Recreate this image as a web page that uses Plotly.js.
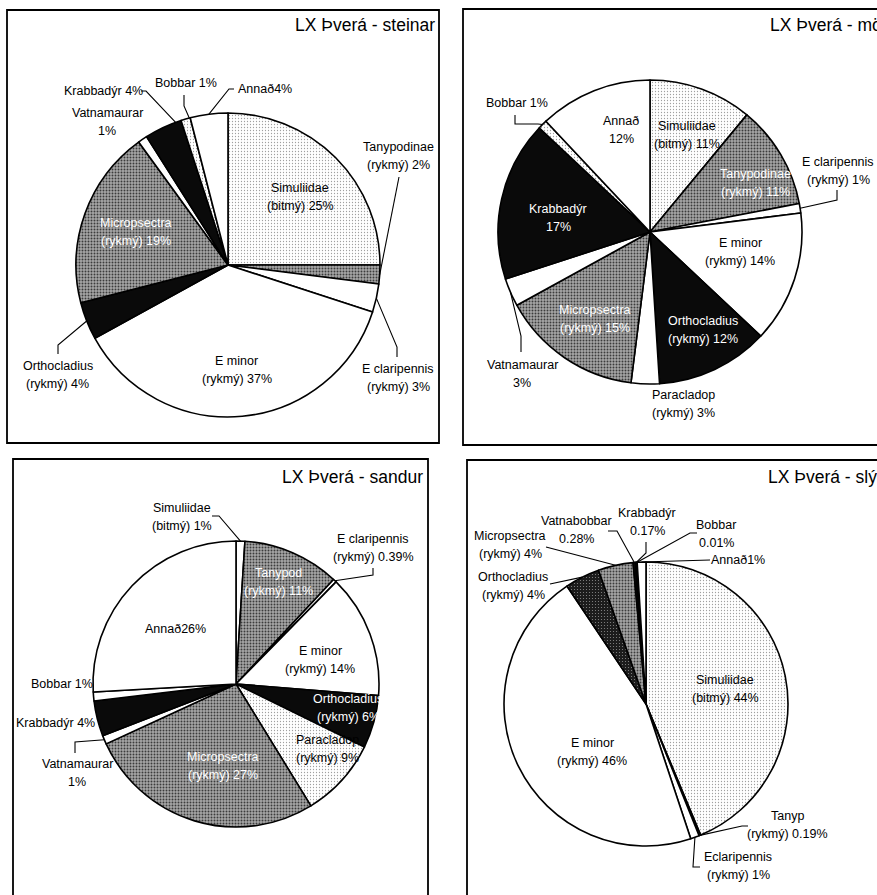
<!DOCTYPE html>
<html>
<head>
<meta charset="utf-8">
<script src="https://cdn.plot.ly/plotly-3.0.1.min.js"></script>
<style>
  html, body { margin: 0; padding: 0; background: #fff; }
  #chart { width: 877px; height: 895px; }
</style>
</head>
<body>
<div id="chart"></div>
<script>
// ---- data: one set of arrays per sampling substrate, slices listed clockwise from 12 o'clock ----
const titles = ['LX Þverá - steinar', 'LX Þverá - möl', 'LX Þverá - sandur', 'LX Þverá - slý'];

const steinarGroups = ['Simuliidae', 'Tanypodinae', 'E claripennis', 'E minor', 'Orthocladius', 'Micropsectra', 'Vatnamaurar', 'Krabbadýr', 'Bobbar', 'Annað'];
const steinarLabels = ['Simuliidae\n(bitmý) ', 'Tanypodinae\n(rykmý) ', 'E claripennis\n(rykmý) ', 'E minor\n(rykmý) ', 'Orthocladius\n(rykmý) ', 'Micropsectra\n(rykmý) ', 'Vatnamaurar\n', 'Krabbadýr ', 'Bobbar ', 'Annað'];
const steinarValues = [25, 2, 3, 37, 4, 19, 1, 4, 1, 4];

const molGroups = ['Simuliidae', 'Tanypodinae', 'E claripennis', 'E minor', 'Orthocladius', 'Paracladop', 'Micropsectra', 'Vatnamaurar', 'Krabbadýr', 'Bobbar', 'Annað'];
const molLabels = ['Simuliidae\n(bitmý) ', 'Tanypodinae\n(rykmý) ', 'E claripennis\n(rykmý) ', 'E minor\n(rykmý) ', 'Orthocladius\n(rykmý) ', 'Paracladop\n(rykmý) ', 'Micropsectra\n(rykmý) ', 'Vatnamaurar\n', 'Krabbadýr\n', 'Bobbar ', 'Annað\n'];
const molValues = [11, 11, 1, 14, 12, 3, 15, 3, 17, 1, 12];

const sandurGroups = ['Simuliidae', 'Tanypod', 'E claripennis', 'E minor', 'Orthocladius', 'Paracladop', 'Micropsectra', 'Vatnamaurar', 'Krabbadýr', 'Bobbar', 'Annað'];
const sandurLabels = ['Simuliidae\n(bitmý) ', 'Tanypod\n(rykmý) ', 'E claripennis\n(rykmý) ', 'E minor\n(rykmý) ', 'Orthocladius\n(rykmý) ', 'Paracladop\n(rykmý) ', 'Micropsectra\n(rykmý) ', 'Vatnamaurar\n', 'Krabbadýr ', 'Bobbar ', 'Annað'];
const sandurValues = [1, 11, 0.39, 14, 6, 9, 27, 1, 4, 1, 26];

const slyGroups = ['Simuliidae', 'Tanyp', 'Eclaripennis', 'E minor', 'Orthocladius', 'Micropsectra', 'Vatnabobbar', 'Krabbadýr', 'Bobbar', 'Annað'];
const slyLabels = ['Simuliidae\n(bitmý) ', 'Tanyp\n(rykmý) ', 'Eclaripennis\n(rykmý) ', 'E minor\n(rykmý) ', 'Orthocladius\n(rykmý) ', 'Micropsectra\n(rykmý) ', 'Vatnabobbar\n', 'Krabbadýr\n', 'Bobbar\n', 'Annað'];
const slyValues = [44, 0.19, 1, 46, 4, 4, 0.28, 0.17, 0.01, 1];

// ---- page geometry (pixels) ----
const W = 877, H = 895;
const FONT = 'Liberation Sans, Arial, Helvetica, sans-serif';
const LINE_STEP = 18;

// fill styles (stippled greys)
const FILLS = {
  light: { color: '#f4f4f4', shape: '.', bg: '#ffffff', fg: '#a0a0a0', size: 3, sol: 0.14 },
  grey:  { color: '#8c8c8c', shape: '.', bg: '#a6a6a6', fg: '#3c3c3c', size: 3, sol: 0.32 },
  dark:  { color: '#222222', shape: '.', bg: '#1c1c1c', fg: '#8a8a8a', size: 3, sol: 0.12 },
  black: { color: '#0a0a0a', shape: '', bg: '#0a0a0a', fg: '#0a0a0a', size: 8, sol: 0.3 },
  white: { color: '#ffffff', shape: '', bg: '#ffffff', fg: '#ffffff', size: 8, sol: 0.3 }
};
const groupFill = {
  'Simuliidae': 'light', 'Tanypodinae': 'grey', 'Tanypod': 'grey', 'Tanyp': 'white',
  'E claripennis': 'white', 'Eclaripennis': 'white', 'E minor': 'white',
  'Orthocladius': 'black', 'Paracladop': 'light', 'Micropsectra': 'grey',
  'Vatnamaurar': 'white', 'Krabbadýr': 'black', 'Bobbar': 'light', 'Annað': 'white',
  'Vatnabobbar': 'black'
};

// panel layout: pie centre/radius, frame, title placement, label placement per slice
// label entry: [textX, textY, textColour, leaderPoints (from text side toward slice), positionWithinSlice]
const panels = [
  {
    groups: steinarGroups, labels: steinarLabels, values: steinarValues,
    cx: 228, cy: 265, r: 152,
    frame: [7, 10, 439, 443],
    title: { x: 437, y: 25, anchor: 'right' },
    fillOverride: {},
    place: [
      [300, 197, '#000', null],
      [398, 156, '#000', [[399, 177]]],
      [398, 378, '#000', [[397, 357], [397, 347]]],
      [237, 370, '#000', null],
      [58, 375, '#000', [[58, 354], [58, 345]]],
      [136, 232, '#fff', null],
      [107, 122, '#000', null],
      [103, 91, '#000', [[141, 91], [146, 91]], 0.85],
      [186, 83, '#000', [[184, 95], [184, 106]], 0.9],
      [265, 89, '#000', [[234, 89], [229, 89]]]
    ]
  },
  {
    groups: molGroups, labels: molLabels, values: molValues,
    cx: 650, cy: 232, r: 152,
    frame: [463, 9, 900, 445],
    title: { x: 768, y: 25, anchor: 'left' },
    fillOverride: { 'Paracladop': 'white' },
    place: [
      [687, 135, '#000', null],
      [755, 183, '#fff', null],
      [838, 171, '#000', [[837, 190], [837, 200]]],
      [740, 252, '#000', null],
      [703, 330, '#fff', null],
      [683, 404, '#000', null],
      [595, 319, '#fff', null],
      [522, 374, '#000', [[521, 352], [521, 336]]],
      [558, 218, '#fff', null],
      [517, 103, '#000', [[515, 115], [515, 124], [538, 124]]],
      [621, 130, '#000', null]
    ]
  },
  {
    groups: sandurGroups, labels: sandurLabels, values: sandurValues,
    cx: 236, cy: 684, r: 143,
    frame: [13, 459, 428, 910],
    title: { x: 425, y: 477, anchor: 'right' },
    fillOverride: { 'Simuliidae': 'white', 'Bobbar': 'white' },
    place: [
      [182, 517, '#000', [[212, 516], [219, 516]]],
      [278, 582, '#fff', null],
      [373, 548, '#000', [[373, 568], [373, 575]]],
      [320, 660, '#000', null],
      [348, 708, '#fff', null],
      [327, 749, '#000', null],
      [223, 766, '#fff', null],
      [77, 773, '#000', [[75, 753], [75, 742]]],
      [55, 723, '#000', null],
      [62, 684, '#000', null],
      [175, 629, '#000', null]
    ]
  },
  {
    groups: slyGroups, labels: slyLabels, values: slyValues,
    cx: 646, cy: 704, r: 142,
    frame: [467, 460, 900, 910],
    title: { x: 766, y: 477, anchor: 'left' },
    fillOverride: { 'Orthocladius': 'dark' },
    place: [
      [725, 689, '#000', null],
      [787, 825, '#000', [[748, 826], [742, 826]]],
      [738, 866, '#000', [[700, 867], [693, 867]]],
      [592, 752, '#000', null],
      [513, 586, '#000', [[550, 584]]],
      [510, 545, '#000', [[546, 547]]],
      [576, 530, '#000', [[608, 531], [617, 531]]],
      [647, 522, '#000', [[646, 542], [646, 553]]],
      [716, 534, '#000', [[697, 533], [690, 533]]],
      [738, 560, '#000', [[710, 560]]]
    ]
  }
];

const px = x => x / W;
const py = y => 1 - y / H;

const traces = [];
const annotations = [];
const shapes = [];

panels.forEach((p, k) => {
  const fills = p.groups.map(g => FILLS[p.fillOverride[g] || groupFill[g]]);
  traces.push({
    type: 'pie',
    labels: p.groups,
    values: p.values,
    sort: false,
    direction: 'clockwise',
    rotation: 0,
    textinfo: 'none',
    hoverinfo: 'skip',
    showlegend: false,
    domain: {
      x: [px(p.cx - p.r), px(p.cx + p.r)],
      y: [py(p.cy + p.r), py(p.cy - p.r)]
    },
    marker: {
      colors: fills.map(f => f.color),
      line: { color: '#000', width: 1.6 },
      pattern: {
        shape: fills.map(f => f.shape),
        bgcolor: fills.map(f => f.bg),
        fgcolor: fills.map(f => f.fg),
        size: fills.map(f => f.size),
        solidity: fills.map(f => f.sol),
        fillmode: 'replace'
      }
    }
  });

  // frame
  const [x0, y0, x1, y1] = p.frame;
  shapes.push({
    type: 'rect', xref: 'paper', yref: 'paper',
    x0: px(x0), x1: px(x1), y0: py(y1), y1: py(y0),
    line: { color: '#000', width: 1.8 }, fillcolor: 'rgba(0,0,0,0)', layer: 'below'
  });

  // title
  annotations.push({
    xref: 'paper', yref: 'paper', x: px(p.title.x), y: py(p.title.y),
    xanchor: p.title.anchor, yanchor: 'middle', showarrow: false,
    text: titles[k], font: { family: FONT, size: 17.5, color: '#000' }
  });

  // slice labels and leader lines
  const total = p.values.reduce((a, b) => a + b, 0);
  let cum = 0;
  p.values.forEach((v, i) => {
    const spec = p.place[i];
    const frac = spec[4] === undefined ? 0.5 : spec[4];
    const ang = 2 * Math.PI * (cum + v * frac) / total;
    cum += v;
    const lines = (p.labels[i] + v + '%').split('\n');
    lines.forEach((ln, j) => {
      annotations.push({
        xref: 'paper', yref: 'paper',
        x: px(spec[0]), y: py(spec[1] + (j - (lines.length - 1) / 2) * LINE_STEP),
        xanchor: 'center', yanchor: 'middle', showarrow: false,
        text: ln, font: { family: FONT, size: 12.5, color: spec[2] }
      });
    });
    if (spec[3]) {
      const ex = p.cx + p.r * Math.sin(ang);
      const ey = p.cy - p.r * Math.cos(ang);
      const pts = spec[3].concat([[ex, ey]]);
      const path = pts.map((pt, n) => (n ? 'L' : 'M') + px(pt[0]) + ',' + py(pt[1])).join(' ');
      shapes.push({
        type: 'path', xref: 'paper', yref: 'paper', path: path,
        line: { color: '#000', width: 1.1 }, layer: 'above'
      });
    }
  });
});

const layout = {
  width: W, height: H,
  margin: { l: 0, r: 0, t: 0, b: 0 },
  paper_bgcolor: '#ffffff',
  plot_bgcolor: '#ffffff',
  showlegend: false,
  annotations: annotations,
  shapes: shapes
};

Plotly.newPlot('chart', traces, layout, { displayModeBar: false, staticPlot: true });
</script>
</body>
</html>
